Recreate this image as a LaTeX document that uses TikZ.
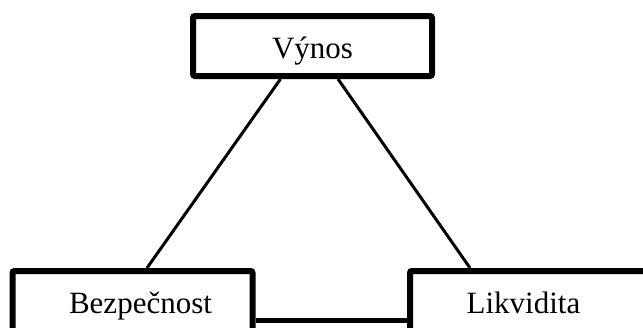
\documentclass[tikz,border=0pt]{standalone}
\usepackage{fontspec}
\setmainfont{Liberation Serif}
\begin{document}
\begin{tikzpicture}[x=1pt, y=-1pt,
  boxframe/.style={draw=black, line width=6pt, rounded corners=2pt,
    minimum width=240pt, minimum height=60pt, inner sep=0pt, fill=white},
  boxlabel/.style={anchor=base, inner sep=0pt,
    font=\fontsize{31}{36}\selectfont},
  edge/.style={draw=black, line width=3pt},
  baseedge/.style={draw=black, line width=5pt}]
  \useasboundingbox (0,0) rectangle (643,327);
  \clip (0,0) rectangle (643,327);

  % the three frames
  \node[boxframe, minimum width=239pt] (vynos) at (312.5,46) {};
  \node[boxframe] (bez) at (132.5,301) {};
  \node[boxframe] (lik) at (530,301) {};

  % connectors start at the outer edges of the frames
  \draw[edge] ([xshift=-32pt]vynos.south) -- ([xshift=14.5pt]bez.north);
  \draw[edge] ([xshift=25.5pt]vynos.south) -- ([xshift=-60pt]lik.north);
  \draw[baseedge] ([yshift=-19pt]bez.east) -- ([yshift=-19pt]lik.west);

  % labels
  \node[boxlabel] (tvynos) at (312.5,58) {Výnos};
  \node[boxlabel] (tbez) at (140.5,313) {Bezpečnost};
  \node[boxlabel] (tlik) at (523.5,313) {Likvidita};
\end{tikzpicture}
\end{document}
